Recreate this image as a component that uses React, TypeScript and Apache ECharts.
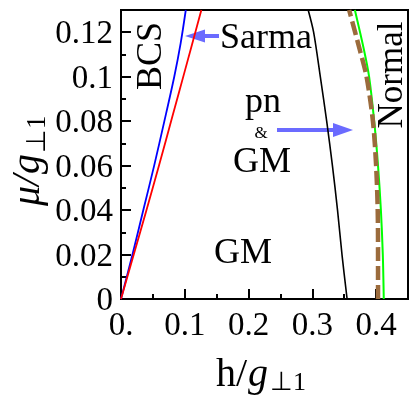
import React, { useEffect, useRef } from "react";
import * as echarts from "echarts";

// ---- data ----
const xTicks = [0, 0.1, 0.2, 0.3, 0.4];
const xTickLabels = ["0.", "0.1", "0.2", "0.3", "0.4"];
const yTicks = [0, 0.02, 0.04, 0.06, 0.08, 0.1, 0.12];
const yTickLabels = ["0", "0.02", "0.04", "0.06", "0.08", "0.1", "0.12"];

// [h, mu]
const blueCurve = [
  [0, 0], [0.018, 0.02], [0.035, 0.04], [0.052, 0.06], [0.068, 0.08],
  [0.0835, 0.1], [0.0935, 0.115], [0.1016, 0.13],
];
const redCurve = [
  [0, 0], [0.02, 0.02], [0.04, 0.04], [0.06, 0.0605], [0.08, 0.0815],
  [0.1, 0.1025], [0.126, 0.13],
];
const blackCurve = [
  [0.3545, 0], [0.3465, 0.02], [0.3395, 0.04], [0.3315, 0.06], [0.3225, 0.08],
  [0.3125, 0.1], [0.302, 0.12], [0.2935, 0.13],
];
const greenCurve = [
  [0.412, 0], [0.4105, 0.02], [0.4075, 0.04], [0.403, 0.06], [0.397, 0.08],
  [0.389, 0.1], [0.381, 0.112], [0.3667, 0.13],
];
const brownCurve = [
  [0.403, 0], [0.403, 0.02], [0.4025, 0.04], [0.4, 0.06], [0.395, 0.08],
  [0.385, 0.1], [0.3745, 0.112], [0.3577, 0.13],
];

const SERIF = "'Liberation Serif', 'Times New Roman', serif";
const ARROW = "#6B6BFF";

function labelFor(ticks: number[], labels: string[]) {
  return (v: number) => {
    const i = ticks.findIndex((t) => Math.abs(t - v) < 1e-9);
    return i >= 0 ? labels[i] : "";
  };
}

export default function App() {
  const ref = useRef<HTMLDivElement>(null);
  useEffect(() => {
    if (!ref.current) return;
    const chart = echarts.init(ref.current, undefined, { renderer: "svg" });
    const axisLine = { show: true, lineStyle: { color: "#000", width: 2 } };
    const line = (data: number[][], color: string, width: number, extra: any = {}) => ({
      type: "line",
      data,
      showSymbol: false,
      symbol: "none",
      smooth: 0.3,
      lineStyle: { color, width, ...extra },
      xAxisIndex: 0,
      yAxisIndex: 0,
      silent: true,
    });
    const txt = (text: string, size: number, italic = false) => ({
      text, fontFamily: SERIF, fontSize: size, fontStyle: italic ? "italic" : "normal",
      fill: "#000", align: "left", verticalAlign: "middle",
    });
    chart.setOption({
      animation: false,
      grid: {
        left: 121, top: 10, width: 287, height: 289,
        show: true, borderColor: "#000", borderWidth: 2, backgroundColor: "transparent",
      },
      xAxis: [
        {
          type: "value", min: 0, max: 0.45, interval: 0.1, position: "bottom",
          axisLine,
          axisTick: { show: true, inside: true, length: 10, lineStyle: { color: "#000", width: 2 } },
          axisLabel: {
            formatter: labelFor(xTicks, xTickLabels), color: "#000",
            fontFamily: SERIF, fontSize: 33, margin: 8, showMaxLabel: false,
          },
          splitLine: { show: false },
        },
        {
          type: "value", min: 0, max: 0.45, interval: 0.05, position: "bottom", offset: 0,
          axisLine: { show: false },
          axisTick: { show: true, inside: true, length: 5, lineStyle: { color: "#000", width: 2 } },
          axisLabel: { show: false },
          splitLine: { show: false },
        },
      ],
      yAxis: [
        {
          type: "value", min: 0, max: 0.13, interval: 0.02, position: "left",
          axisLine,
          axisTick: { show: true, inside: true, length: 10, lineStyle: { color: "#000", width: 2 } },
          axisLabel: {
            formatter: labelFor(yTicks, yTickLabels), color: "#000",
            fontFamily: SERIF, fontSize: 33, margin: 8, showMaxLabel: false,
          },
          splitLine: { show: false },
        },
        {
          type: "value", min: 0, max: 0.13, interval: 0.01, position: "left", offset: 0,
          axisLine: { show: false },
          axisTick: { show: true, inside: true, length: 5, lineStyle: { color: "#000", width: 2 } },
          axisLabel: { show: false },
          splitLine: { show: false },
        },
      ],
      series: [
        line(blueCurve, "#0000FF", 1.8),
        line(redCurve, "#FF0000", 1.8),
        line(blackCurve, "#000000", 1.6),
        line(greenCurve, "#00FF00", 2),
        line(brownCurve, "#9B6B3C", 4.5, { type: [14, 5], cap: "butt" }),
      ],
      graphic: [
        // axis titles
        { type: "text", x: 216, y: 372, style: txt("h/", 40) },
        { type: "text", x: 248, y: 372, style: txt("g", 40, true) },
        { type: "text", x: 270, y: 381, style: txt("⊥1", 26) },
        {
          type: "group", x: 25, y: 154, rotation: Math.PI / 2,
          children: [
            { type: "text", x: -52, y: 0, style: txt("μ/", 40, true) },
            { type: "text", x: -20, y: 0, style: txt("g", 40, true) },
            { type: "text", x: 1, y: 11, style: txt("⊥1", 27) },
          ],
        },
        // annotations
        { type: "text", x: 149, y: 56, rotation: Math.PI / 2, style: { text: "BCS", fontFamily: SERIF, fontSize: 36, fill: "#000", align: "center", verticalAlign: "middle" } },
        { type: "text", x: 390, y: 75, rotation: Math.PI / 2, style: { text: "Normal", fontFamily: SERIF, fontSize: 35, fill: "#000", align: "center", verticalAlign: "middle" } },
        { type: "text", x: 266, y: 36, style: { text: "Sarma", fontFamily: SERIF, fontSize: 36, fill: "#000", align: "center", verticalAlign: "middle" } },
        { type: "text", x: 263, y: 100, style: { text: "pn", fontFamily: SERIF, fontSize: 36, fill: "#000", align: "center", verticalAlign: "middle" } },
        { type: "text", x: 261, y: 132, style: { text: "&", fontFamily: SERIF, fontSize: 17, fill: "#000", align: "center", verticalAlign: "middle" } },
        { type: "text", x: 262, y: 160, style: { text: "GM", fontFamily: SERIF, fontSize: 36, fill: "#000", align: "center", verticalAlign: "middle" } },
        { type: "text", x: 243, y: 251, style: { text: "GM", fontFamily: SERIF, fontSize: 36, fill: "#000", align: "center", verticalAlign: "middle" } },
        // arrows
        { type: "line", shape: { x1: 219, y1: 36, x2: 202, y2: 36 }, style: { stroke: ARROW, lineWidth: 4 } },
        { type: "polygon", shape: { points: [[185, 36], [205, 29.5], [205, 42.5]] }, style: { fill: ARROW } },
        { type: "line", shape: { x1: 277, y1: 130, x2: 336, y2: 130 }, style: { stroke: ARROW, lineWidth: 4 } },
        { type: "polygon", shape: { points: [[353, 130], [333, 123], [333, 137]] }, style: { fill: ARROW } },
      ],
    });
    return () => chart.dispose();
  }, []);
  return <div ref={ref} style={{ position: "fixed", left: 0, top: 0, width: 409, height: 396 }} />;
}
